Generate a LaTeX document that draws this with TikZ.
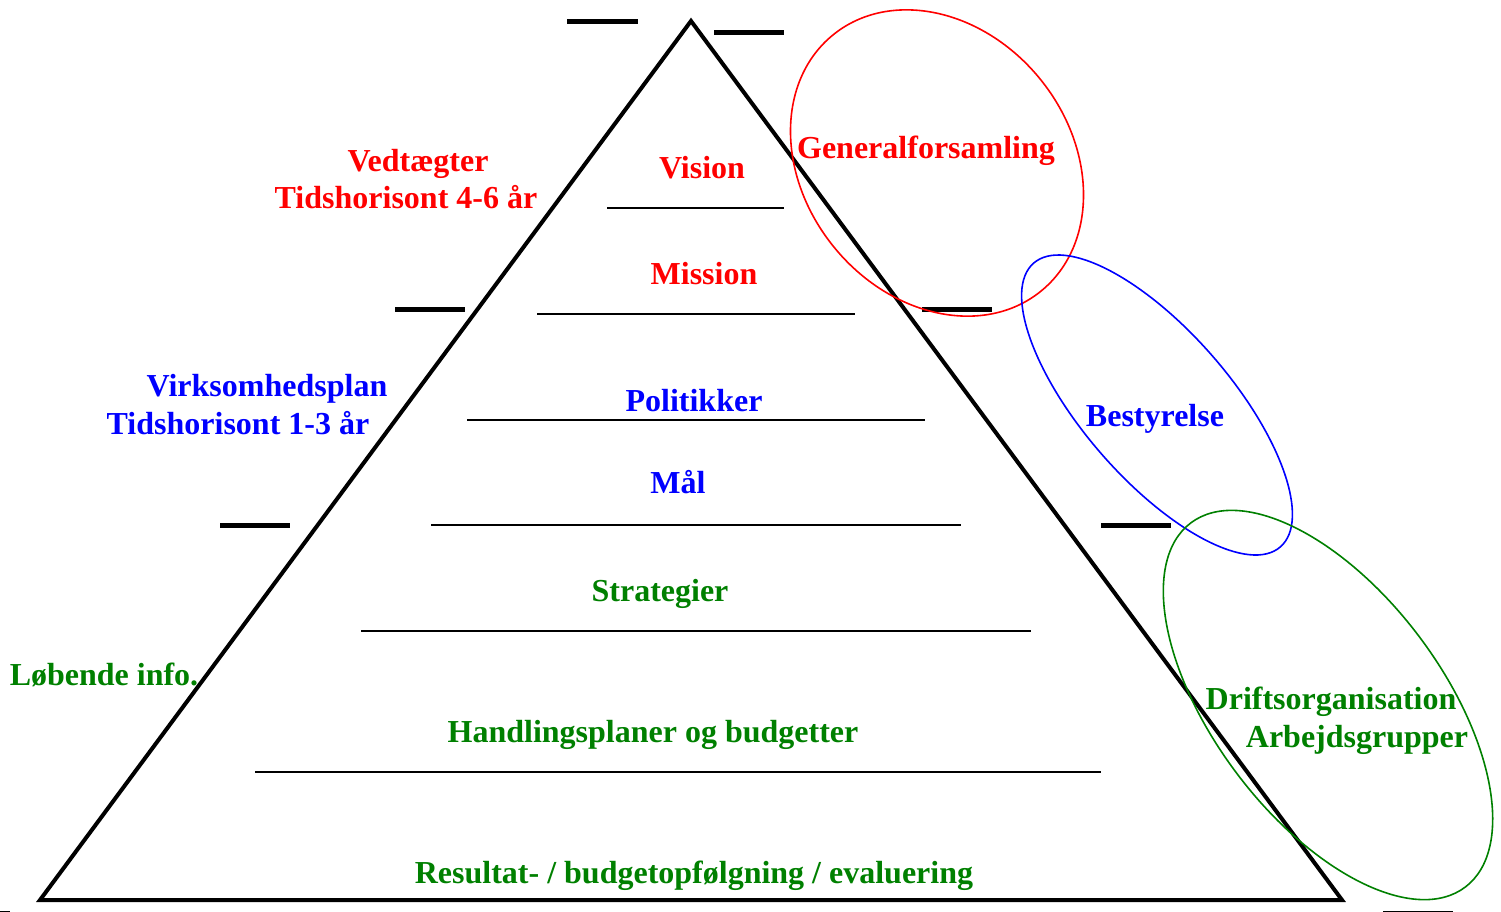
\documentclass[tikz,border=0pt]{standalone}
\usepackage{fontspec}
\setmainfont{Liberation Serif}
\definecolor{dkgreen}{RGB}{0,128,0}
\tikzset{
  lbl/.style={font=\bfseries\fontsize{32}{38}\selectfont, anchor=base, inner sep=0pt},
  bar/.style={line width=5pt},
  layer/.style={line width=1.8pt},
  ring/.style={line width=1.6pt},
}

\begin{document}
\begin{tikzpicture}[x=1pt,y=-1pt]
    \useasboundingbox (0,0) rectangle (1501,911);

    % pyramid
    \draw[line width=4pt, line join=miter] (691,21) -- (1342,900) -- (40,900) -- cycle;

    \draw[bar] (567,21) -- (638,21);
    \draw[bar] (714,32) -- (784,32);
    \draw[bar] (395,309) -- (465,309);
    \draw[bar] (922,309) -- (992,309);
    \draw[bar] (220,525) -- (290,525);
    \draw[bar] (1101,525) -- (1171,525);
    \draw[bar] (-60,913) -- (10,913);
    \draw[bar] (1383,913) -- (1453,913);

    \draw[layer] (607,208) -- (784,208);
    \draw[layer] (537,314) -- (855,314);
    \draw[layer] (467,420) -- (925,420);
    \draw[layer] (431,525) -- (961,525);
    \draw[layer] (361,631) -- (1031,631);
    \draw[layer] (255,772) -- (1101,772);

    % levels inside the pyramid
    \draw (702,178) node[lbl, red] (vision) {Vision};
    \draw (704,284) node[lbl, red] (mission) {Mission};
    \draw (694,411) node[lbl, blue] (politik) {Politikker};
    \draw (678,493) node[lbl, blue] (maal) {Mål};
    \draw (660,601) node[lbl, dkgreen] (strat) {Strategier};
    \draw (653,742) node[lbl, dkgreen] (handling) {Handlingsplaner og budgetter};
    \draw (694,883) node[lbl, dkgreen] (result) {Resultat- / budgetopfølgning / evaluering};

    % left side
    \draw (418,171) node[lbl, red] (vedt) {Vedtægter};
    \draw (406,208) node[lbl, red] (horiz1) {Tidshorisont 4-6 år};
    \draw (267,396) node[lbl, blue] (virk) {Virksomhedsplan};
    \draw (238,434) node[lbl, blue] (horiz2) {Tidshorisont 1-3 år};
    \draw (104,685) node[lbl, dkgreen] (info) {Løbende info.};

    % right side
    \draw[red, ring, rotate around={-51:(937,163)}] (937,163) ellipse [x radius=165pt, y radius=133pt];
    \draw[blue, ring, rotate around={-49:(1157,405)}] (1157,405) ellipse [x radius=188pt, y radius=74pt];
    \draw[dkgreen, ring, rotate around={-53:(1328,705)}] (1328,705) ellipse [x radius=228pt, y radius=114pt];

    \draw (926,158) node[lbl, red] (genfors) {Generalforsamling};
    \draw (1155,426) node[lbl, blue] (bestyr) {Bestyrelse};
    \draw (1331,709) node[lbl, dkgreen] (drift) {Driftsorganisation};
    \draw (1357,747) node[lbl, dkgreen] (arbejd) {Arbejdsgrupper};
  \end{tikzpicture}
\end{document}
